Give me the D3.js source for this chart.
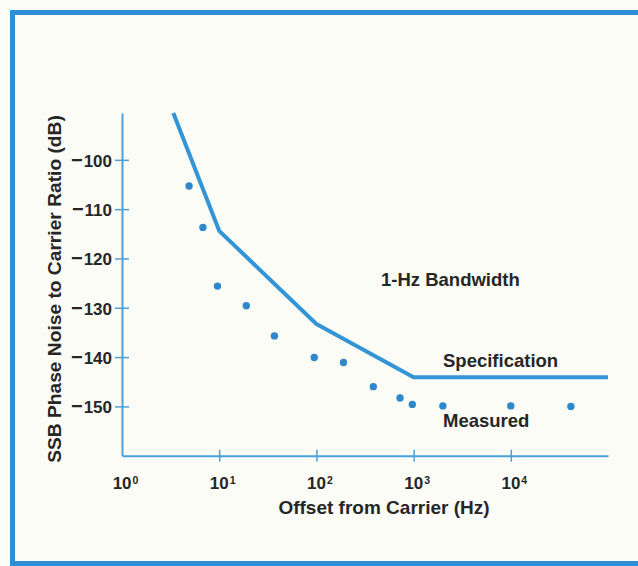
<!DOCTYPE html>
<html>
<head>
<meta charset="utf-8">
<script src="https://cdn.jsdelivr.net/npm/d3@7"></script>
<style>
  html, body { margin: 0; padding: 0; background: #fdfdf7; }
  svg { display: block; }
  text { font-family: "Liberation Sans", Arial, sans-serif; font-weight: bold; fill: #262626; }
</style>
</head>
<body>
<svg id="chart" width="638" height="566"></svg>
<script>
// Specification limit line: [offset Hz, dB]
const specFreq = [3.37, 10, 100, 1000, 100000];
const specDb   = [-90.5, -114.4, -133.3, -144.1, -144.1];
// Measured points
const measFreq = [4.9, 6.8, 9.6, 19, 37, 95, 190, 385, 725, 970, 2000, 10000, 41500];
const measDb   = [-105.3, -113.7, -125.6, -129.6, -135.7, -140.1, -141.1, -146.0, -148.3, -149.6, -149.9, -149.9, -150.0];
// Axis ticks
const xTickExp = [0, 1, 2, 3, 4];
const yTicks = [-100, -110, -120, -130, -140, -150];

const svg = d3.select("#chart");
const blue = "#3394d6";
const axisBlue = "#4aa0da";

// frame
svg.append("path")
  .attr("d", "M 660 12.5 L 12.5 12.5 L 12.5 563.5 L 660 563.5")
  .attr("fill", "#fcfcf6")
  .attr("stroke", "#2f8fd4")
  .attr("stroke-width", 5);

const x = d3.scaleLog().domain([1, 1e5]).range([122, 608]);
const y = d3.scaleLinear().domain([-160, -90.5]).range([455.7, 113]);

// axes
const gx = svg.append("g").attr("transform", `translate(0,${y(-160)})`);
gx.call(d3.axisBottom(x).tickValues(xTickExp.map(e => Math.pow(10, e))).tickSize(0).tickFormat(""));
gx.select(".domain").attr("stroke", axisBlue).attr("stroke-width", 2);
gx.selectAll(".tick").each(function(d, i) {
  const g = d3.select(this);
  if (i > 0) g.append("line").attr("y1", -6).attr("y2", 6).attr("stroke", axisBlue).attr("stroke-width", 1.5);
  const t = g.append("text").attr("y", 33).attr("text-anchor", "middle").attr("font-size", 17).attr("x", 3);
  t.append("tspan").text("10");
  t.append("tspan").attr("font-size", 10.5).attr("dy", -5).attr("dx", 1).text(String(xTickExp[i]));
});

const gy = svg.append("g").attr("transform", `translate(${x(1)},0)`);
gy.call(d3.axisLeft(y).tickValues(yTicks).tickSize(0).tickFormat(""));
gy.select(".domain").attr("stroke", axisBlue).attr("stroke-width", 2);
gy.selectAll(".tick").each(function(d) {
  const g = d3.select(this);
  g.append("line").attr("x1", -7).attr("x2", 7).attr("stroke", axisBlue).attr("stroke-width", 1.5);
  const t = g.append("text").attr("x", -10).attr("dy", "0.38em").attr("text-anchor", "end").attr("font-size", 17);
  t.append("tspan").attr("font-size", 20).text("\u2212");
  t.append("tspan").attr("dx", 1).text(String(Math.abs(d)));
});

// spec line
const line = d3.line().x((d, i) => x(specFreq[i])).y((d, i) => y(specDb[i]));
svg.append("path").datum(specFreq).attr("d", line)
  .attr("fill", "none").attr("stroke", blue).attr("stroke-width", 4).attr("stroke-linejoin", "round");

// measured dots
svg.append("g").selectAll("circle").data(measFreq).join("circle")
  .attr("cx", d => x(d)).attr("cy", (d, i) => y(measDb[i])).attr("r", 3.7)
  .attr("fill", "#2f88cc");

// labels
svg.append("text").attr("x", 381).attr("y", 286).attr("font-size", 18.5).text("1-Hz Bandwidth");
svg.append("text").attr("x", 443).attr("y", 367).attr("font-size", 18.5).text("Specification");
svg.append("text").attr("x", 443).attr("y", 427).attr("font-size", 18.5).text("Measured");
svg.append("text").attr("x", 384).attr("y", 514).attr("text-anchor", "middle").attr("font-size", 19)
  .text("Offset from Carrier (Hz)");
svg.append("text").attr("transform", "translate(61,289) rotate(-90)").attr("text-anchor", "middle")
  .attr("font-size", 19.2).text("SSB Phase Noise to Carrier Ratio (dB)");
</script>
</body>
</html>
